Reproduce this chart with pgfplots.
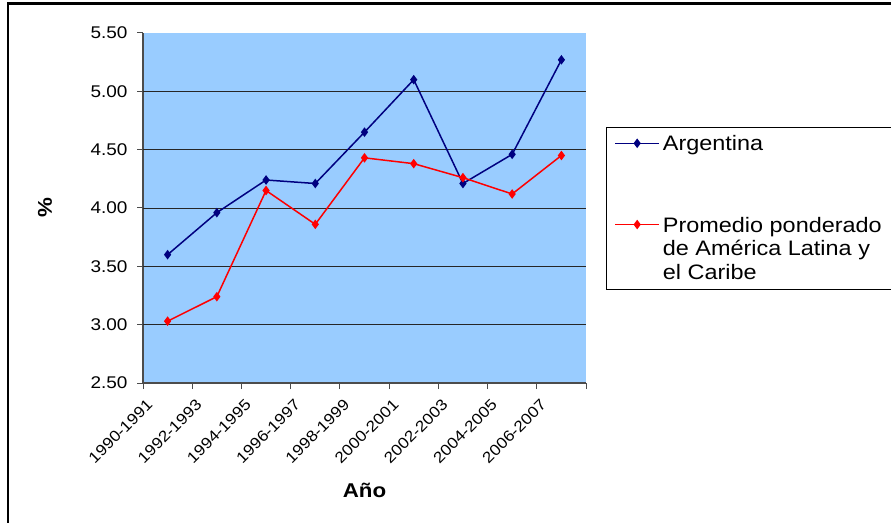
\documentclass[border=0pt]{standalone}
\usepackage{fontspec}
\setmainfont{Liberation Sans}[FakeStretch=1.12]
\usepackage{pgfplots}
\pgfplotsset{compat=1.18}
\definecolor{bgblue}{HTML}{99CCFF}
\definecolor{navy}{HTML}{000080}
\definecolor{lacred}{HTML}{FF0000}
\begin{document}
\begin{tikzpicture}
\useasboundingbox (0bp,0bp) rectangle (891bp,523bp);
\draw[line width=2.2bp, black] (8bp,-5bp) -- (8bp,519.5bp) -- (900bp,519.5bp);
\begin{axis}[
  at={(143bp,140bp)}, anchor=south west,
  scale only axis, width=443bp, height=350bp,
  xmin=0.5, xmax=9.5, ymin=2.5, ymax=5.5,
  axis background/.style={fill=bgblue},
  axis x line*=bottom, axis y line*=left,
  axis line style={draw=black!70, line width=1.2bp},
  tick align=outside,
  major tick length=6bp,
  tick style={draw=black!70, line width=1bp},
  xtick={0.5,1.5,2.5,3.5,4.5,5.5,6.5,7.5,8.5,9.5},
  xticklabels={1990-1991,1992-1993,1994-1995,1996-1997,1998-1999,2000-2001,2002-2003,2004-2005,2006-2007,{}},
  xticklabel style={rotate=45, anchor=north east, font=\fontsize{15.5}{19}\selectfont, xshift=-1bp, yshift=-5bp},
  ytick={2.5,3,3.5,4,4.5,5,5.5},
  yticklabel style={font=\fontsize{17}{21}\selectfont, xshift=-6bp,
    /pgf/number format/.cd, fixed, fixed zerofill, precision=2, assume math mode=true},
  extra y ticks={3,3.5,4,4.5,5},
  extra y tick labels={},
  extra y tick style={grid=major, major tick length=0bp},
  major grid style={draw=black!85, line width=0.9bp},
  xlabel={\textbf{Año}},
  xlabel style={font=\fontsize{20}{24}\selectfont, at={(axis description cs:0.5,-0.306)}, anchor=center},
  ylabel={\textbf{\%}},
  ylabel style={font=\fontsize{20}{24}\selectfont, at={(axis description cs:-0.221,0.5)}, anchor=center, rotate=0},
  legend style={at={(axis description cs:1.045,0.731)}, anchor=north west,
    draw=black, line width=1bp, fill=white,
    font=\fontsize{21}{24}\selectfont,
    inner xsep=8bp, inner ysep=5bp,
    row sep=57bp, column sep=0bp,
    cells={anchor=base west},
    nodes={inner sep=3bp}},
  legend image code/.code={\draw[mark repeat=2, mark phase=2, #1] plot coordinates {(0bp,7.5bp)(22bp,7.5bp)(44bp,7.5bp)};},
]
\addplot[navy, line width=1.5bp, mark=diamond*, mark size=3.6bp, mark options={solid, fill=navy}]
  coordinates {(1,3.60)(2,3.96)(3,4.24)(4,4.21)(5,4.65)(6,5.10)(7,4.21)(8,4.46)(9,5.27)};
\addlegendentry{Argentina}
\addplot[lacred, line width=1.5bp, mark=diamond*, mark size=3.6bp, mark options={solid, fill=lacred}]
  coordinates {(1,3.03)(2,3.24)(3,4.15)(4,3.86)(5,4.43)(6,4.38)(7,4.26)(8,4.12)(9,4.45)};
\addlegendentry[text depth=49bp]{\begin{tabular}[t]{@{}l@{\hspace{14bp}}}Promedio ponderado\\de América Latina y\\el Caribe\end{tabular}}
\end{axis}
\end{tikzpicture}
\end{document}
